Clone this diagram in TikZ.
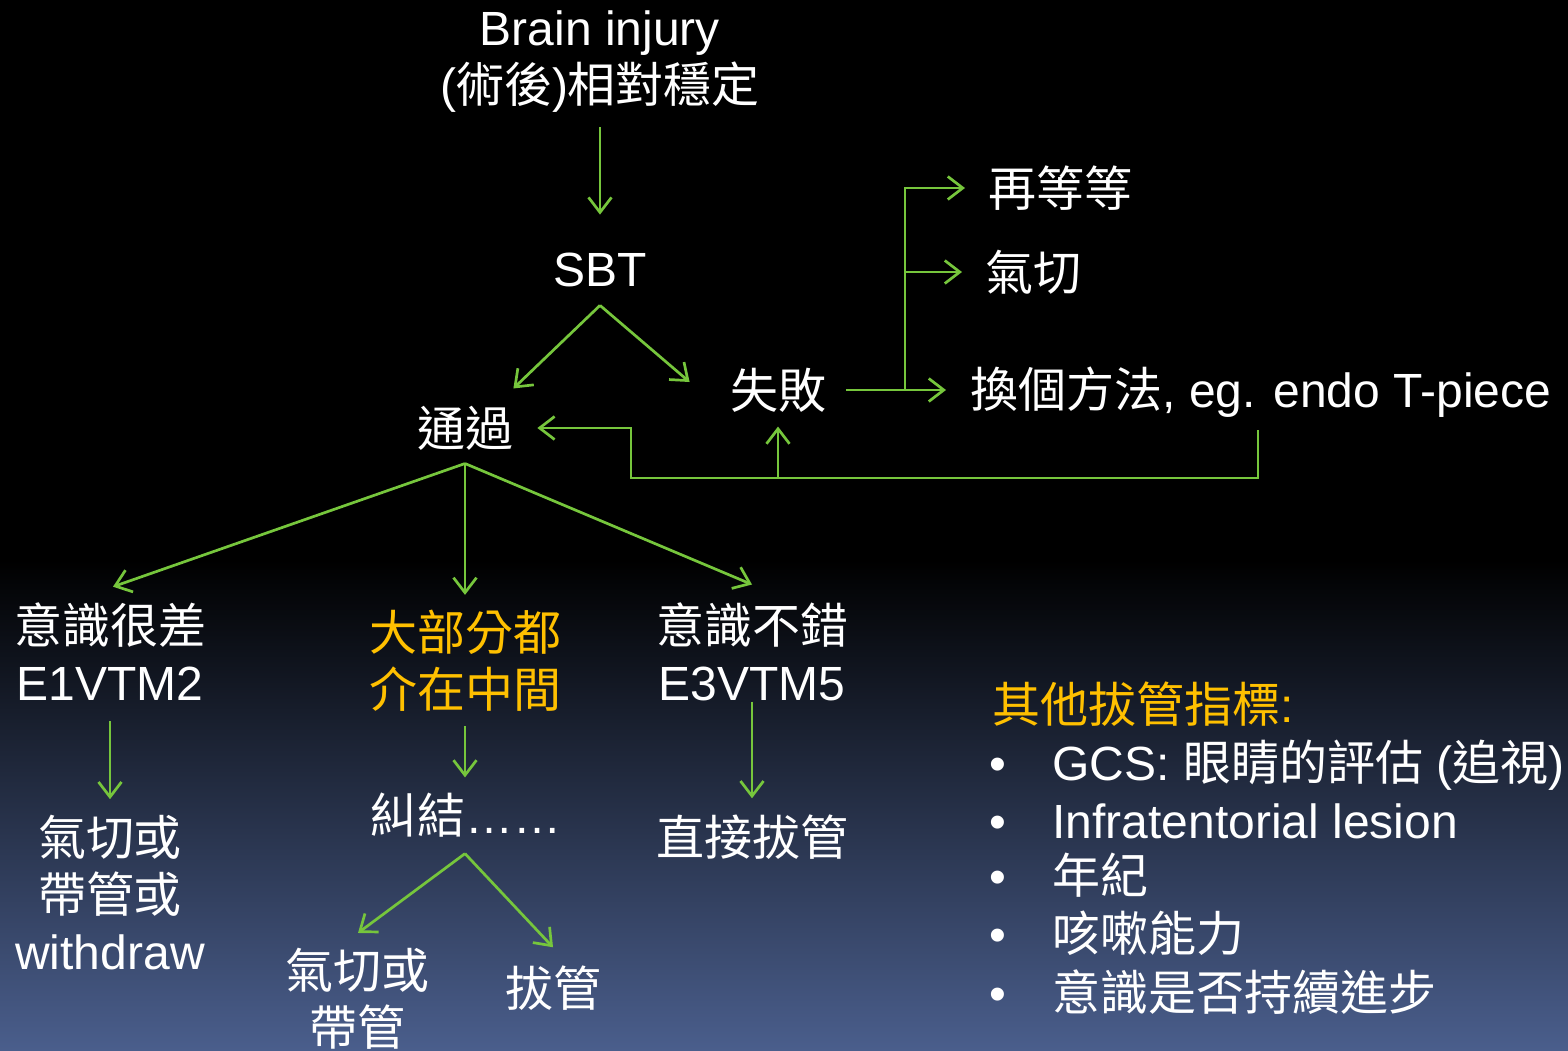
\documentclass[tikz,border=0pt]{standalone}
\usepackage{fontspec}
\setmainfont{Liberation Sans}
\newfontfamily\tc{Noto Sans CJK TC}
\usetikzlibrary{arrows.meta}
\definecolor{arrgreen}{RGB}{118,198,60}
\definecolor{hlorange}{RGB}{255,192,0}
\definecolor{bgbottom}{RGB}{74,94,140}

\begin{document}
\begin{tikzpicture}[x=0.5pt, y=-0.5pt,
    txt/.style={text=white, align=center, inner sep=0pt, font=\fontsize{24}{28.5}\selectfont},
    cn/.style={txt, font=\fontsize{24}{28.5}\selectfont\tc},
    hl/.style={cn, text=hlorange},
    arr/.style={draw=arrgreen, line width=1.35pt, -{Straight Barb[length=7.5pt, width=11.5pt]}}
]
    % background
    \fill[black] (0,0) rectangle (1568,1050);
    \shade[top color=black, bottom color=bgbottom] (0,560) rectangle (1568,1050);
    \useasboundingbox (0,0) rectangle (1568,1050);

    % top of the tree
    \node[txt] (brain) at (600,62) {Brain injury\\({\tc 術後}){\tc 相對穩定}};
    \node[txt] (sbt) at (600,270) {SBT};
    \node[cn] (pass) at (465,428) {通過};
    \node[cn] (fail) at (778,390) {失敗};

    % after failure
    \node[cn, anchor=west] (wait) at (988,188) {再等等};
    \node[cn, anchor=west] (trach) at (985,272) {氣切};
    \node[txt, anchor=west] (alt) at (970,392) {{\tc 換個方法}, eg. endo T-piece};

    % three groups
    \node[txt] (poor) at (110,652) {{\tc 意識很差}\\E1VTM2};
    \node[hl] (mid) at (465,661) {大部分都\\介在中間};
    \node[txt] (good) at (752,652) {{\tc 意識不錯}\\E3VTM5};

    \node[txt] (poorout) at (110,893) {{\tc 氣切或}\\{\tc 帶管或}\\withdraw};
    \node[txt] (tangle) at (465,815) {{\tc 糾結}……};
    \node[cn] (goodout) at (752,837) {直接拔管};
    \node[cn] (tangleA) at (357,999) {氣切或\\帶管};
    \node[cn] (tangleB) at (553,988) {拔管};

    % other criteria
    \node[hl, anchor=base west] (others) at (992,722) {其他拔管指標\rmfamily:};
    \foreach \y in {780,838,893,951,1010}
        \node[txt, anchor=base] (bullet\y) at (998,\y) {•};
    \node[txt, anchor=base west] (item1) at (1052,780) {GCS: {\tc 眼睛的評估} ({\tc 追視})};
    \node[txt, anchor=base west] (item2) at (1052,838) {Infratentorial lesion};
    \node[cn, anchor=base west] (item3) at (1052,893) {年紀};
    \node[cn, anchor=base west] (item4) at (1052,951) {咳嗽能力};
    \node[cn, anchor=base west] (item5) at (1052,1010) {意識是否持續進步};

    % forks
    \coordinate (sbtfork) at ([yshift=-9pt]sbt.south);
    \coordinate (passfork) at ([yshift=-6.5pt]pass.south);
    \coordinate (tanglefork) at ([yshift=-8pt]tangle.south);
    \coordinate (failfork) at (905,390);
    \coordinate (loopR) at (1258,430);
    \coordinate (loopL) at (631,478);

    % connectors
    \draw[arr, shorten <=7pt, shorten >=19pt] (brain.south) -- (sbt.north);
    \draw[arr] (sbtfork) -- ([shift={(0,-17)}]pass.north east);
    \draw[arr] (sbtfork) -- ([shift={(-40,-8)}]fail.west);
    \draw[arr, shorten <=10pt, shorten >=12pt] (fail.east) -- (fail.east -| alt.west);
    \draw[arr, shorten >=11.5pt] (failfork) |- (wait.west);
    \draw[arr, shorten >=11.5pt] (failfork) |- (trach.west);
    \draw[arr, shorten >=12pt] (loopR) |- (loopL) |- (pass.east);
    \draw[arr, shorten >=7pt] (fail |- loopL) -- (fail.south);

    \draw[arr] (passfork) -- ([shift={(3,-16)}]poor.north);
    \draw[arr, shorten >=7.5pt] (passfork) -- (mid.north);
    \draw[arr] (passfork) -- ([shift={(0,-18)}]good.north);

    \draw[arr, shorten <=10pt, shorten >=8pt] (poor.south) -- (poorout.north);
    \draw[arr, shorten <=7pt, shorten >=7.5pt] (mid.south) -- (tangle.north);
    \draw[arr, shorten >=8pt] (good.south) -- (goodout.north);
    \draw[arr] (tanglefork) -- ([shift={(1,-15)}]tangleA.north);
    \draw[arr] (tanglefork) -- ([shift={(0,-18)}]tangleB.north);
\end{tikzpicture}
\end{document}
